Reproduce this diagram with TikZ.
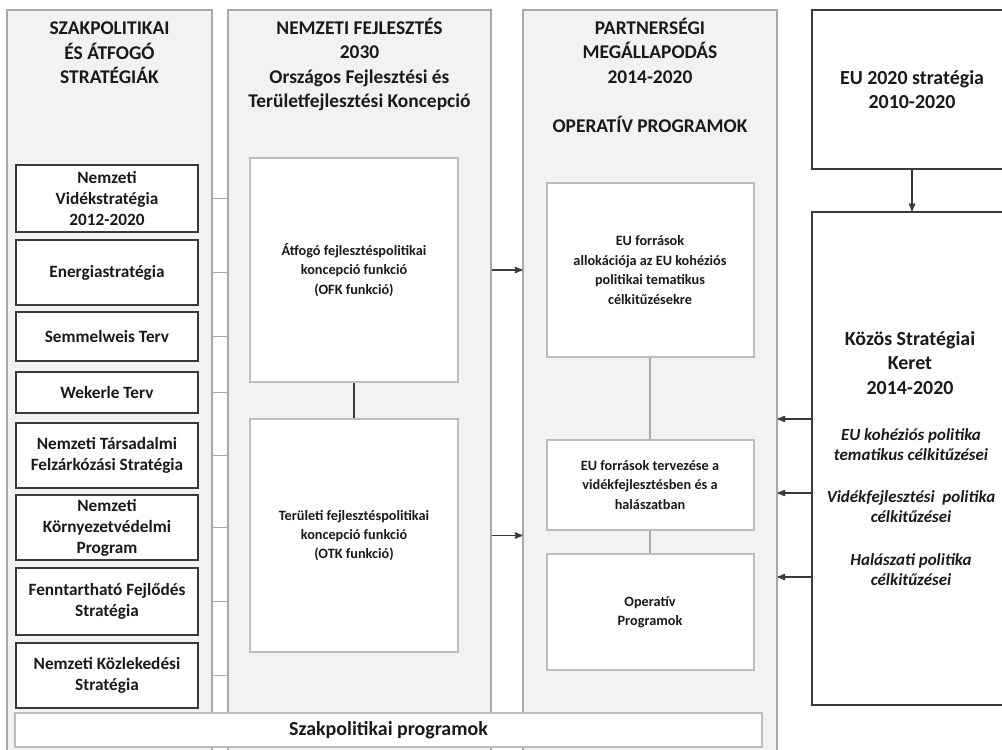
\documentclass[tikz,border=0pt]{standalone}
\usepackage{fontspec}
\setmainfont{Carlito}
\usepackage{tikz}
\usetikzlibrary{arrows,positioning}

\definecolor{panelfill}{HTML}{F2F2F2}
\definecolor{panelline}{HTML}{A8A8A8}
\definecolor{darkline}{HTML}{3A3A3A}
\definecolor{boxline}{HTML}{BDBDBD}
\definecolor{inktext}{HTML}{1A1A1A}

\begin{document}
\begin{tikzpicture}[x=1bp,y=-1bp,>=stealth',
      every node/.append style={text=inktext},
      panel/.style={draw=panelline,fill=panelfill,line width=1.5bp,inner sep=0pt},
      title/.style={align=center,anchor=north,inner sep=0pt,
        font=\bfseries\fontsize{19.5}{24.5}\selectfont},
      stratbox/.style={draw=darkline,fill=white,line width=2.6bp,minimum width=182bp,
        align=center,inner sep=0pt,font=\bfseries\fontsize{17.3}{21}\selectfont},
      innerbox/.style={draw=boxline,fill=white,line width=2bp,align=center,
        inner sep=0pt,font=\bfseries\fontsize{14.3}{19.5}\selectfont},
      eubox/.style={draw=darkline,fill=white,line width=2.2bp,minimum width=200bp,
        align=center,inner sep=0pt,font=\bfseries\fontsize{20}{24.5}\selectfont},
      kskitem/.style={align=center,inner sep=0pt,
        font=\bfseries\itshape\fontsize{17}{20}\selectfont},
      link/.style={draw=panelline,line width=1.4bp},
      darklink/.style={draw=darkline,line width=1.6bp},
      arrow/.style={->,draw=darkline,line width=1.6bp}]
    \fill[white] (0,0) rectangle (1002,750);
    \useasboundingbox (0,0) rectangle (1002,750);

    % three columns
    \node[panel,minimum width=205bp,minimum height=750bp] (p1) at (109.5,385) {};
    \node[panel,minimum width=263bp,minimum height=750bp] (p2) at (359.5,385) {};
    \node[panel,minimum width=254bp,minimum height=750bp] (p3) at (650,385) {};
    \node[title] (t1) at (109.5,22) {SZAKPOLITIKAI\\ÉS ÁTFOGÓ\\STRATÉGIÁK};
    \node[title] (t2) at (359.5,18) {NEMZETI FEJLESZTÉS\\2030\\Országos Fejlesztési és\\Területfejlesztési Koncepció};
    \node[title] (t3) at (650,18) {PARTNERSÉGI\\MEGÁLLAPODÁS\\2014-2020\\[24.5bp]OPERATÍV PROGRAMOK};

    % strategies
    \node[stratbox,minimum height=67bp] (s1) at (107,198.5) {Nemzeti\\Vidékstratégia\\2012-2020};
    \node[stratbox,minimum height=65bp] (s2) at (107,272.5) {Energiastratégia};
    \node[stratbox,minimum height=49bp] (s3) at (107,336.5) {Semmelweis Terv};
    \node[stratbox,minimum height=41bp] (s4) at (107,392.5) {Wekerle Terv};
    \node[stratbox,minimum height=65bp] (s5) at (107,455.5) {Nemzeti Társadalmi\\Felzárkózási Stratégia};
    \node[stratbox,minimum height=65bp] (s6) at (107,527.5) {Nemzeti\\Környezetvédelmi\\Program};
    \node[stratbox,minimum height=67bp] (s7) at (107,601.5) {Fenntartható Fejlődés\\Stratégia};
    \node[stratbox,minimum height=65bp] (s8) at (107,675.5) {Nemzeti Közlekedési\\Stratégia};
    \draw[link] (s1 -| p1.east) -- (s1 -| p2.west);
    \draw[link] (s2 -| p1.east) -- (s2 -| p2.west);
    \draw[link] (s3 -| p1.east) -- (s3 -| p2.west);
    \draw[link] (s4 -| p1.east) -- (s4 -| p2.west);
    \draw[link] (s5 -| p1.east) -- (s5 -| p2.west);
    \draw[link] (s6 -| p1.east) -- (s6 -| p2.west);
    \draw[link] (s7 -| p1.east) -- (s7 -| p2.west);
    \draw[link] (s8 -| p1.east) -- (s8 -| p2.west);

    % OFK / OTK
    \node[innerbox,minimum width=208bp,minimum height=224bp] (ofk) at (354,270)
      {Átfogó fejlesztéspolitikai\\koncepció funkció\\(OFK funkció)};
    \node[innerbox,minimum width=208bp,minimum height=233bp] (otk) at (354,535.5)
      {Területi fejlesztéspolitikai\\koncepció funkció\\(OTK funkció)};
    \draw[darklink] (ofk) -- (otk);

    % partnership agreement
    \node[innerbox,minimum width=207bp,minimum height=174bp] (alloc) at (650,270)
      {EU források\\allokációja az EU kohéziós\\politikai tematikus\\célkitűzésekre};
    \node[innerbox,minimum width=207bp,minimum height=90bp] (terv) at (650,485)
      {EU források tervezése a\\vidékfejlesztésben és a\\halászatban};
    \node[innerbox,minimum width=207bp,minimum height=116bp] (oper) at (650,612)
      {Operatív\\Programok};
    \draw[link] (alloc) -- (terv);
    \draw[link] (terv) -- (oper);
    \draw[arrow] (ofk -| p2.east) -- (ofk -| p3.west);
    \draw[arrow] (otk -| p2.east) -- (otk -| p3.west);

    % EU level
    \node[eubox,minimum height=159bp] (eu) at (912,89.5) {EU 2020 stratégia\\2010-2020};
    \node[eubox,minimum height=493bp] (ksk) at (912,458.5) {};
    \draw[arrow] (eu) -- (ksk);
    \node[align=center,inner sep=0pt,font=\bfseries\fontsize{20}{24.5}\selectfont]
      (kskt) at (910,363) {Közös Stratégiai\\Keret\\2014-2020};
    \node[kskitem] (coh) at (911,445) {EU kohéziós politika\\tematikus célkitűzései};
    \node[kskitem] (rur) at (911,507) {Vidékfejlesztési\ \ politika\\célkitűzései};
    \node[kskitem] (fish) at (911,570) {Halászati politika\\célkitűzései};
    \draw[arrow] ([yshift=39.5bp]ksk.west) -- ([yshift=39.5bp]ksk.west -| p3.east);
    \draw[arrow] ([yshift=-34.5bp]ksk.west) -- ([yshift=-34.5bp]ksk.west -| p3.east);
    \draw[arrow] ([yshift=-118.5bp]ksk.west) -- ([yshift=-118.5bp]ksk.west -| p3.east);

    % sector programmes
    \node[innerbox,minimum width=747bp,minimum height=34bp,
      font=\bfseries\fontsize{20}{24}\selectfont] (prog) at (388.5,730) {Szakpolitikai programok};
\end{tikzpicture}
\end{document}
